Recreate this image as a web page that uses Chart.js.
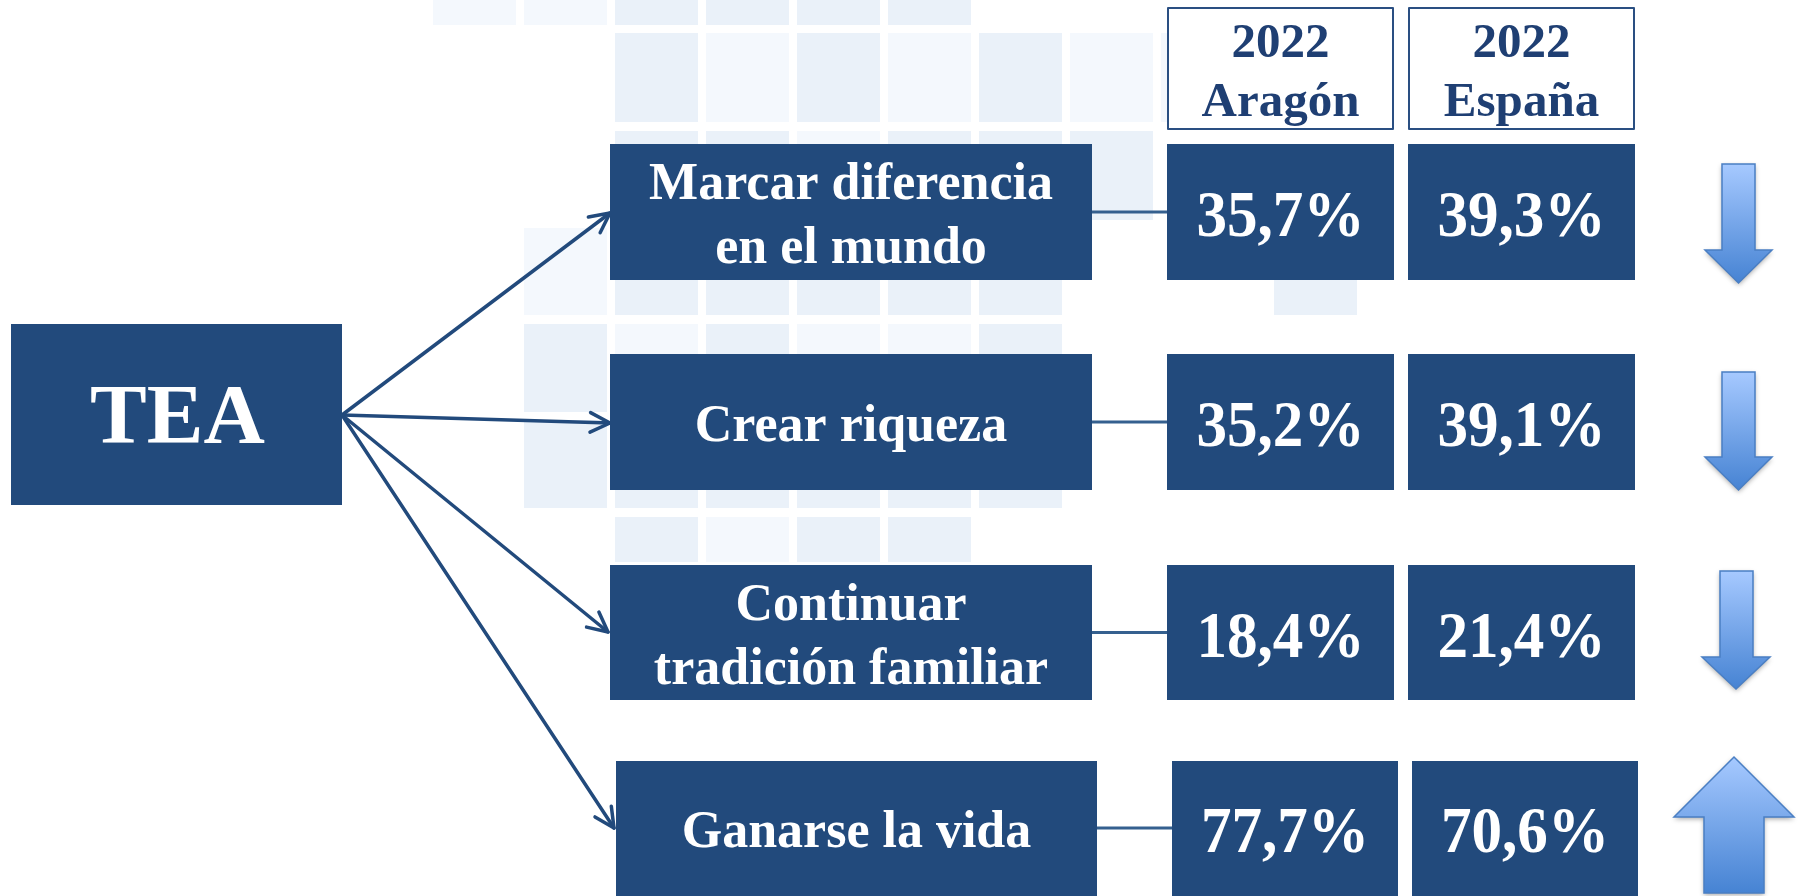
<!DOCTYPE html>
<html>
<head>
<meta charset="utf-8">
<script src="https://cdn.jsdelivr.net/npm/chart.js@4.4.1/dist/chart.umd.min.js"></script>
<style>
html,body{margin:0;padding:0;background:#ffffff;overflow:hidden}
#wrap{width:1798px;height:896px;position:relative}
</style>
</head>
<body>
<div id="wrap"><canvas id="c"></canvas></div>
<script>
// ---------- DATA ----------
const source = 'TEA';
const categories = [['Marcar diferencia', 'en el mundo'], ['Crear riqueza'], ['Continuar', 'tradición familiar'], ['Ganarse la vida']];
const columnLabels = [['2022', 'Aragón'], ['2022', 'España']];
const aragon = [35.7, 35.2, 18.4, 77.7];
const espana = [39.3, 39.1, 21.4, 70.6];

// ---------- LAYOUT / STYLE (positions in the 1798x896 coordinate space) ----------
const NAVY = '#224a7c';
const FONT = '"Liberation Serif", "Times New Roman", serif';
const layout = {
  tea: { x0: 11, x1: 342, y0: 324, y1: 505 },
  origin: { x: 342, y: 415 },
  header: { y0: 7, y1: 130, base: [57, 116] },
  rows: [
    { y0: 144, y1: 280, cat: [610, 1092], cols: [[1167, 1394], [1408, 1635]], target: [610, 213],
      block: { sx: [1722, 1755], hx: [1705, 1772], tail: 164, head: 250, tip: 283 } },
    { y0: 354, y1: 490, cat: [610, 1092], cols: [[1167, 1394], [1408, 1635]], target: [610, 423],
      block: { sx: [1722, 1755], hx: [1705, 1772], tail: 372, head: 457, tip: 490 } },
    { y0: 565, y1: 700, cat: [610, 1092], cols: [[1167, 1394], [1408, 1635]], target: [608, 632],
      block: { sx: [1720, 1753], hx: [1702, 1770], tail: 571, head: 657, tip: 689 } },
    { y0: 761, y1: 896, cat: [616, 1097], cols: [[1172, 1398], [1412, 1638]], target: [614, 828], mid: 828,
      block: { sx: [1704, 1764], hx: [1674, 1794], tail: 893, head: 817, tip: 757 } }
  ],
  bgCols: [433, 524, 615, 706, 797, 888, 979, 1070, 1161],
  bgColW: 83,
  bgRows: [[-64, 25], [33, 122], [131, 220], [228, 315], [324, 412], [420, 508], [517, 562]],
  // [row, col, shade] shade: 0 darker, 1 lighter
  bgCells: [
    [0,0,1],[0,1,1],[0,2,0],[0,3,0],[0,4,0],[0,5,0],
    [1,2,0],[1,3,1],[1,4,0],[1,5,1],[1,6,0],[1,7,1],[1,8,1],
    [2,2,0],[2,3,0],[2,4,1],[2,5,0],[2,6,0],[2,7,0],
    [3,1,1],[3,2,0],[3,3,0],[3,4,0],[3,5,0],[3,6,0],
    [4,1,0],[4,2,1],[4,3,0],[4,4,1],[4,5,1],[4,6,0],
    [5,1,0],[5,2,0],[5,3,0],[5,4,0],[5,5,0],[5,6,0],
    [6,2,0],[6,3,1],[6,4,0],[6,5,0]
  ],
  bgExtra: [[1274, 1357, 228, 315, 0]],
  shades: ['#eaf1f9', '#f4f8fd']
};

function fmt(v) { return v.toFixed(1).replace('.', ',') + '%'; }

const diagramPlugin = {
  id: 'diagram',
  beforeDraw(chart) {
    const ctx = chart.ctx, sx = chart.scales.x, sy = chart.scales.y;
    const X = v => sx.getPixelForValue(v), Y = v => sy.getPixelForValue(v);
    ctx.save();
    ctx.fillStyle = '#ffffff';
    ctx.fillRect(0, 0, chart.width, chart.height);
    // decorative background squares
    layout.bgCells.forEach(([r, c, s]) => {
      const x0 = layout.bgCols[c], yr = layout.bgRows[r];
      ctx.fillStyle = layout.shades[s];
      ctx.fillRect(X(x0), Y(yr[0]), X(x0 + layout.bgColW) - X(x0), Y(yr[1]) - Y(yr[0]));
    });
    layout.bgExtra.forEach(([x0, x1, y0, y1, s]) => {
      ctx.fillStyle = layout.shades[s];
      ctx.fillRect(X(x0), Y(y0), X(x1) - X(x0), Y(y1) - Y(y0));
    });
    ctx.restore();
  },
  afterDraw(chart) {
    const ctx = chart.ctx, sx = chart.scales.x, sy = chart.scales.y;
    const X = v => sx.getPixelForValue(v), Y = v => sy.getPixelForValue(v);
    const box = (x0, x1, y0, y1) => { ctx.fillRect(X(x0), Y(y0), X(x1) - X(x0), Y(y1) - Y(y0)); };
    ctx.save();

    // TEA box
    const t = layout.tea;
    ctx.fillStyle = NAVY;
    box(t.x0, t.x1, t.y0, t.y1);
    ctx.fillStyle = '#ffffff';
    ctx.font = 'bold 85px ' + FONT;
    ctx.textAlign = 'center';
    ctx.textBaseline = 'alphabetic';
    ctx.fillText(source, X((t.x0 + t.x1) / 2 + 1), Y(443));

    // Arrows from TEA
    ctx.strokeStyle = NAVY;
    ctx.lineWidth = 3.5;
    ctx.lineCap = 'round';
    ctx.lineJoin = 'round';
    const o = layout.origin;
    layout.rows.forEach(r => {
      const x0 = X(o.x), y0 = Y(o.y), x1 = X(r.target[0]), y1 = Y(r.target[1]);
      ctx.beginPath(); ctx.moveTo(x0, y0); ctx.lineTo(x1, y1); ctx.stroke();
      const a = Math.atan2(y1 - y0, x1 - x0), len = 22, sp = 0.46;
      ctx.beginPath();
      ctx.moveTo(x1 - len * Math.cos(a - sp), y1 - len * Math.sin(a - sp));
      ctx.lineTo(x1, y1);
      ctx.lineTo(x1 - len * Math.cos(a + sp), y1 - len * Math.sin(a + sp));
      ctx.stroke();
    });

    // Header boxes
    const h = layout.header;
    layout.rows[0].cols.forEach((c, i) => {
      ctx.fillStyle = '#ffffff';
      box(c[0], c[1], h.y0, h.y1);
      ctx.strokeStyle = '#2a4f82';
      ctx.lineWidth = 2;
      ctx.strokeRect(X(c[0]) + 1, Y(h.y0) + 1, X(c[1]) - X(c[0]) - 2, Y(h.y1) - Y(h.y0) - 2);
      ctx.fillStyle = '#1f3f73';
      ctx.font = 'bold 49px ' + FONT;
      ctx.textAlign = 'center';
      columnLabels[i].forEach((s, k) => ctx.fillText(s, X((c[0] + c[1]) / 2), Y(h.base[k])));
    });

    // Rows
    layout.rows.forEach((r, i) => {
      const mid = r.mid !== undefined ? r.mid : (r.y0 + r.y1) / 2;
      // connector line
      ctx.strokeStyle = '#35608f';
      ctx.lineWidth = 3;
      ctx.lineCap = 'butt';
      ctx.beginPath(); ctx.moveTo(X(r.cat[1]), Y(mid)); ctx.lineTo(X(r.cols[0][0]), Y(mid)); ctx.stroke();
      // category box
      ctx.fillStyle = NAVY;
      box(r.cat[0], r.cat[1], r.y0, r.y1);
      ctx.fillStyle = '#ffffff';
      ctx.font = 'bold 52px ' + FONT;
      ctx.textAlign = 'center';
      const lines = categories[i], n = lines.length, lh = 64;
      lines.forEach((s, k) => {
        const base = mid + 19 + (k - (n - 1) / 2) * lh;
        ctx.fillText(s, X((r.cat[0] + r.cat[1]) / 2), Y(base));
      });
      // value boxes
      [aragon[i], espana[i]].forEach((v, k) => {
        const c = r.cols[k];
        ctx.fillStyle = NAVY;
        box(c[0], c[1], r.y0, r.y1);
        ctx.fillStyle = '#ffffff';
        ctx.font = 'bold 65px ' + FONT;
        const cx = X((c[0] + c[1]) / 2), by = Y(mid + 24);
        ctx.save();
        ctx.translate(cx, by);
        ctx.scale(0.94, 1);
        ctx.fillText(fmt(v), 0, 0);
        ctx.restore();
      });
      // block arrow (direction from data)
      const b = r.block, up = aragon[i] > espana[i];
      const g = ctx.createLinearGradient(0, Y(Math.min(b.tail, b.tip)), 0, Y(Math.max(b.tail, b.tip)));
      g.addColorStop(0, '#a6c9ff');
      g.addColorStop(1, '#4683d3');
      ctx.save();
      ctx.shadowColor = 'rgba(0,0,0,0.35)';
      ctx.shadowBlur = 5;
      ctx.shadowOffsetY = 2;
      ctx.beginPath();
      ctx.moveTo(X(b.sx[0]), Y(b.tail));
      ctx.lineTo(X(b.sx[1]), Y(b.tail));
      ctx.lineTo(X(b.sx[1]), Y(b.head));
      ctx.lineTo(X(b.hx[1]), Y(b.head));
      ctx.lineTo(X((b.hx[0] + b.hx[1]) / 2), Y(b.tip));
      ctx.lineTo(X(b.hx[0]), Y(b.head));
      ctx.lineTo(X(b.sx[0]), Y(b.head));
      ctx.closePath();
      ctx.fillStyle = g;
      ctx.fill();
      ctx.restore();
      ctx.strokeStyle = '#4a7fc4';
      ctx.lineWidth = 1.5;
      ctx.lineJoin = 'miter';
      ctx.stroke();
      void up;
    });
    ctx.restore();
  }
};

new Chart(document.getElementById('c'), {
  type: 'scatter',
  data: {
    labels: categories.map(c => c.join(' ')),
    datasets: [
      { label: columnLabels[0].join(' '), data: [], pointRadius: 0 },
      { label: columnLabels[1].join(' '), data: [], pointRadius: 0 }
    ]
  },
  options: {
    responsive: true,
    maintainAspectRatio: false,
    animation: false,
    devicePixelRatio: 1,
    layout: { padding: 0 },
    plugins: { legend: { display: false }, tooltip: { enabled: false } },
    scales: {
      x: { type: 'linear', min: 0, max: 1798, display: false },
      y: { type: 'linear', min: 0, max: 896, reverse: true, display: false }
    }
  },
  plugins: [diagramPlugin]
});
</script>
</body>
</html>
